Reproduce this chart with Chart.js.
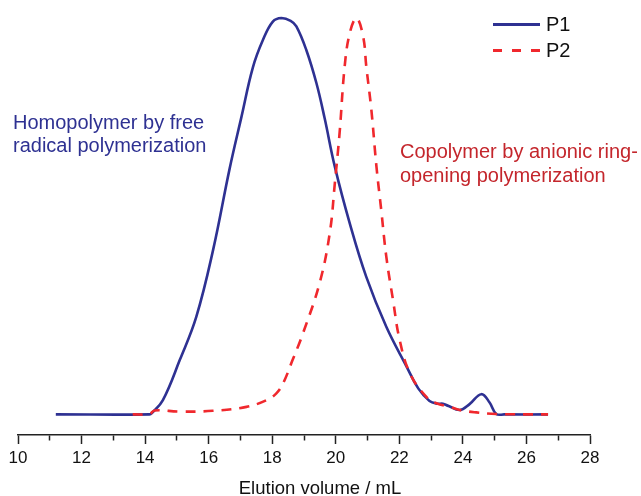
<!DOCTYPE html>
<html>
<head>
<meta charset="utf-8">
<script src="https://cdn.jsdelivr.net/npm/chart.js@4"></script>
<style>
html, body { margin: 0; padding: 0; background: #fff; }
#wrap { position: relative; width: 641px; height: 496px; font-family: "Liberation Sans", Arial, sans-serif; overflow: hidden; }
#c { position: absolute; left: 0; top: 0; }
.note { position: absolute; font-size: 20px; white-space: nowrap; }
.leg { position: absolute; left: 493px; height: 26px; display: flex; align-items: center; font-size: 20px; color: #111; }
.sw { width: 47px; height: 3px; margin-right: 6px; }
.sw.solid { background: #2E3192; }
.sw.dash { background: repeating-linear-gradient(to right, #F0282D 0 9px, transparent 9px 19px); }
#xtitle { position: absolute; left: 220px; width: 200px; top: 477px; text-align: center; font-size: 18.5px; line-height: 22px; color: #111; white-space: nowrap; }
</style>
</head>
<body>
<div id="wrap">
  <canvas id="c" width="641" height="496"></canvas>
  <div class="note" style="left:13px; top:111px; line-height:23px; color:#2E3192;">Homopolymer by free<br>radical polymerization</div>
  <div class="note" style="left:400px; top:139px; line-height:24px; color:#C4262C;">Copolymer by anionic ring-<br>opening polymerization</div>
  <div class="leg" style="top:11px;"><span class="sw solid"></span><span>P1</span></div>
  <div class="leg" style="top:37px;"><span class="sw dash"></span><span>P2</span></div>
  <div id="xtitle"></div>
</div>
<script>
// Elution volume (mL) and normalized detector response
const p1X = [11.19, 14.14, 14.22, 14.56, 15.09, 15.61, 16.14, 16.66, 17.03, 17.39, 17.71, 18.02, 18.29, 18.58, 18.76, 19.07, 19.39, 19.65, 19.97, 20.44, 20.96, 21.59, 22.22, 22.60, 22.95, 23.20, 23.37, 23.55, 23.90, 24.21, 24.58, 24.84, 25.05, 25.30, 26.68];
const p1Y = [0.000, 0.000, 0.004, 0.036, 0.137, 0.246, 0.415, 0.620, 0.750, 0.875, 0.945, 0.991, 1.000, 0.993, 0.979, 0.920, 0.836, 0.747, 0.625, 0.482, 0.347, 0.221, 0.122, 0.065, 0.034, 0.027, 0.027, 0.021, 0.011, 0.026, 0.051, 0.030, 0.001, 0.000, 0.000];

const p2X = [13.61, 14.14, 14.30, 15.09, 16.13, 17.19, 17.82, 18.13, 18.34, 18.64, 18.97, 19.49, 19.81, 19.97, 20.12, 20.28, 20.44, 20.65, 20.86, 20.96, 21.12, 21.28, 21.43, 21.59, 21.80, 22.01, 22.33, 22.85, 23.17, 23.59, 23.90, 24.42, 25.05, 26.68];
const p2Y = [0.000, 0.001, 0.010, 0.007, 0.009, 0.019, 0.036, 0.053, 0.078, 0.137, 0.205, 0.331, 0.457, 0.583, 0.710, 0.878, 0.962, 1.000, 0.954, 0.878, 0.768, 0.625, 0.516, 0.398, 0.289, 0.188, 0.104, 0.044, 0.028, 0.019, 0.011, 0.005, 0.001, 0.000];

const seriesNames = ['P1', 'P2'];
const xTitle = 'Elution volume / mL';
const xMin = 10, xMax = 28;

const FONT = '"Liberation Sans", Arial, sans-serif';
document.getElementById('xtitle').textContent = xTitle;

new Chart(document.getElementById('c'), {
  type: 'line',
  data: {
    datasets: [
      {
        label: seriesNames[0],
        data: p1X.map((x, i) => ({ x: x, y: p1Y[i] })),
        borderColor: '#2E3192',
        borderWidth: 2.6,
        pointRadius: 0,
        fill: false,
        tension: 0.4,
        clip: 6,
        order: 1
      },
      {
        label: seriesNames[1],
        data: p2X.map((x, i) => ({ x: x, y: p2Y[i] })),
        borderColor: '#F0282D',
        borderWidth: 2.6,
        borderDash: [10, 8],
        pointRadius: 0,
        fill: false,
        tension: 0.4,
        clip: 6,
        order: 0
      }
    ]
  },
  options: {
    responsive: false,
    animation: false,
    devicePixelRatio: 1,
    layout: { padding: { left: 18, right: 51, top: 18, bottom: 0 } },
    plugins: { legend: { display: false }, tooltip: { enabled: false } },
    scales: {
      x: {
        type: 'linear',
        min: xMin,
        max: xMax,
        afterFit: (s) => { s.height = 61; },
        border: { display: true, color: '#222', width: 1.5 },
        grid: {
          drawOnChartArea: false,
          drawTicks: true,
          tickLength: 9,
          tickColor: '#222',
          tickWidth: 1.5,
          tickBorderDash: (ctx) => (ctx.tick && Math.abs(ctx.tick.value % 2) === 1) ? [5, 30] : []
        },
        ticks: {
          stepSize: 1,
          autoSkip: false,
          maxRotation: 0,
          padding: 4,
          color: '#111',
          font: { family: FONT, size: 17 },
          callback: (v) => (v % 2 === 0 ? String(v) : '')
        },
        title: { display: false }
      },
      y: {
        display: false,
        min: -0.052,
        max: 1.0
      }
    }
  }
});
</script>
</body>
</html>
